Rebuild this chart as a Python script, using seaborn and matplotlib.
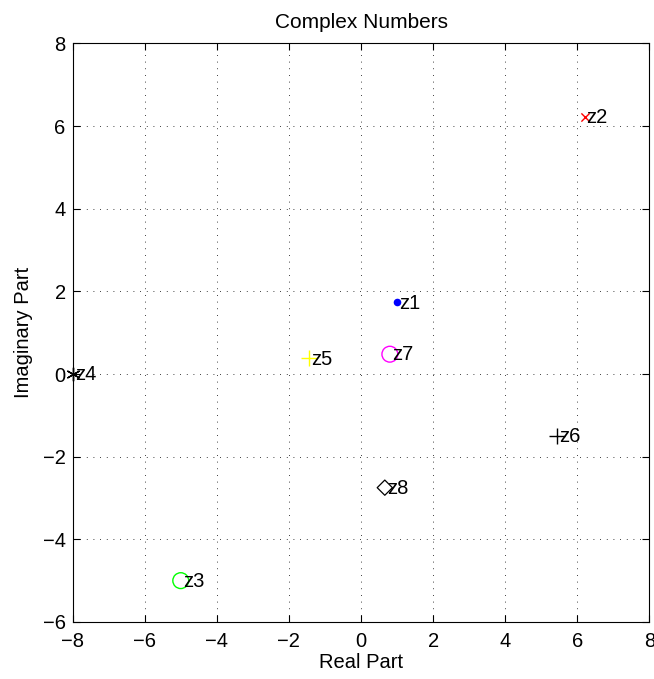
import numpy as np
import pandas as pd
import matplotlib
matplotlib.use('Agg')
import matplotlib.pyplot as plt
import seaborn as sns

sns.set_style('white')
plt.rcParams['font.family'] = ['Liberation Sans', 'DejaVu Sans']
plt.rcParams.update({'text.color': 'black', 'axes.labelcolor': 'black',
                     'xtick.color': 'black', 'ytick.color': 'black'})

# complex numbers
names = ['z1', 'z2', 'z3', 'z4', 'z5', 'z6', 'z7', 'z8']
real_part = [1.0, 6.2, -5.0, -8.0, -1.43, 5.43, 0.8, 0.66]
imag_part = [1.732, 6.23, -5.0, 0.0, 0.38, -1.49, 0.48, -2.75]
markers = ['.', 'x', 'o', '*', '+', '+', 'o', 'D']
colors = ['blue', 'red', 'lime', 'black', 'yellow', 'black', 'magenta', 'black']

df = pd.DataFrame({'name': names, 're': real_part, 'im': imag_part,
                   'marker': markers, 'color': colors})

fs = 14.5

fig = plt.figure(figsize=(6.54, 6.79), dpi=100)
ax = fig.add_axes([0.111, 0.084, 0.882, 0.852])

for _, row in df.iterrows():
    m = row['marker']
    kw = dict(x=[row['re']], y=[row['im']], ax=ax, legend=False, zorder=3,
              clip_on=False)
    if m == '.':
        sns.scatterplot(marker='o', color=row['color'], s=30, linewidth=0, **kw)
    elif m == 'o':
        sns.scatterplot(marker='o', facecolors='none', edgecolor=row['color'],
                        s=130, linewidth=1.0, **kw)
    elif m == 'D':
        sns.scatterplot(marker='D', facecolors='none', edgecolor=row['color'],
                        s=60, linewidth=0.9, **kw)
    elif m == 'x':
        sns.scatterplot(marker='x', color=row['color'], s=35, linewidth=1.0, **kw)
    elif m == '*':
        sns.scatterplot(marker=(6, 2, 0), color=row['color'], s=90,
                        linewidth=1.0, **kw)
    else:
        sns.scatterplot(marker='+', color=row['color'], s=130, linewidth=1.0, **kw)
    ax.annotate(row['name'], (row['re'], row['im']), xytext=(1.5, -0.5),
                textcoords='offset points', ha='left', va='center',
                fontsize=fs, color='black', clip_on=False, zorder=4)

ax.set_xlim(-8, 8)
ax.set_ylim(-6, 8)
ax.set_xticks(np.arange(-8, 9, 2))
ax.set_yticks(np.arange(-6, 9, 2))
ax.set_xticklabels([f'{t}'.replace('-', '\u2212') for t in range(-8, 9, 2)])
ax.set_yticklabels([f'{t}'.replace('-', '\u2212') for t in range(-6, 9, 2)])
ax.tick_params(direction='in', length=5, width=0.8, labelsize=fs,
               colors='black', top=True, right=True, bottom=True, left=True)
ax.tick_params(axis='x', pad=7)
ax.tick_params(axis='y', pad=5)
ax.grid(True, color='black', linestyle=(0, (1, 7)), linewidth=0.6)
for sp in ax.spines.values():
    sp.set_color('black')
    sp.set_linewidth(0.8)

ax.set_xlabel('Real Part', fontsize=fs, labelpad=2)
ax.set_ylabel('Imaginary Part', fontsize=fs, labelpad=7)
ax.set_title('Complex Numbers', fontsize=15, pad=11)

fig.savefig('out.png', dpi=100)
